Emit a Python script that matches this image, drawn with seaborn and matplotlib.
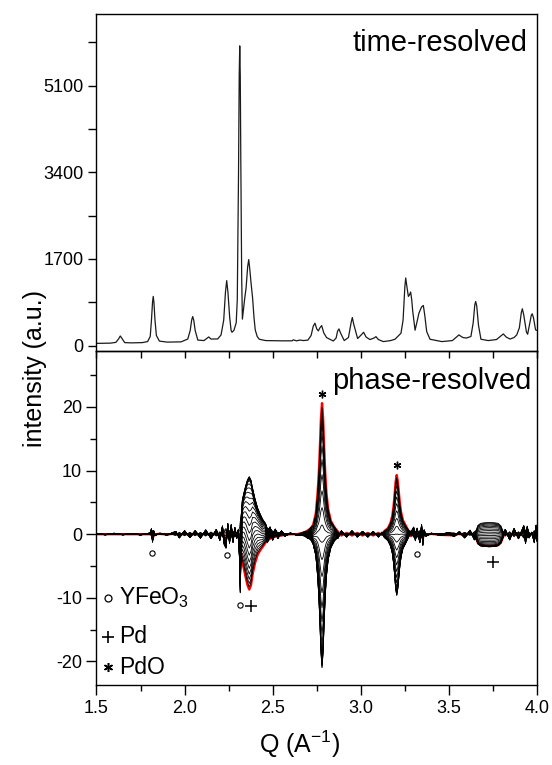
import numpy as np
import pandas as pd
import matplotlib
matplotlib.use("Agg")
import matplotlib.pyplot as plt
import seaborn as sns

# ---------------- data ----------------
# time-resolved pattern (Q in 1/A, intensity a.u.)
Q_top = [1.500, 1.580, 1.610, 1.625, 1.635, 1.645, 1.660, 1.700, 1.760, 1.790,
         1.805, 1.812, 1.818, 1.822, 1.826, 1.832, 1.840, 1.857, 1.900, 1.980,
         2.018, 2.032, 2.040, 2.046, 2.052, 2.060, 2.075, 2.110, 2.125, 2.137,
         2.150, 2.188, 2.207, 2.222, 2.232, 2.239, 2.246, 2.256, 2.264, 2.269,
         2.280, 2.293, 2.299, 2.306, 2.310, 2.313, 2.316, 2.319, 2.324, 2.328,
         2.334, 2.342, 2.349, 2.358, 2.364, 2.370, 2.378, 2.386, 2.394, 2.401,
         2.412, 2.424, 2.460, 2.550, 2.610, 2.617, 2.635, 2.655, 2.675, 2.700,
         2.718, 2.730, 2.740, 2.750, 2.759, 2.768, 2.778, 2.790, 2.806, 2.844,
         2.860, 2.868, 2.876, 2.885, 2.906, 2.930, 2.945, 2.952, 2.960, 2.982,
         3.005, 3.016, 3.030, 3.052, 3.075, 3.086, 3.100, 3.128, 3.170, 3.194,
         3.228, 3.240, 3.250, 3.255, 3.262, 3.270, 3.277, 3.283, 3.289, 3.295,
         3.308, 3.318, 3.330, 3.345, 3.355, 3.363, 3.374, 3.393, 3.460, 3.520,
         3.550, 3.557, 3.570, 3.581, 3.600, 3.625, 3.638, 3.647, 3.652, 3.658,
         3.668, 3.682, 3.723, 3.770, 3.795, 3.809, 3.825, 3.847, 3.870, 3.885,
         3.900, 3.911, 3.917, 3.925, 3.940, 3.947, 3.960, 3.968, 3.973, 3.980,
         3.992, 4.000]
I_top = [45, 50, 65, 130, 190, 140, 60, 55, 60, 80,
         180, 500, 850, 966, 850, 500, 200, 90, 70, 75,
         130, 300, 500, 571, 500, 300, 110, 100, 140, 171,
         130, 132, 211, 500, 1050, 1275, 1050, 550, 300, 263,
         300, 450, 900, 3330, 5300, 5878, 5300, 3658, 1360, 520,
         700, 950, 1130, 1550, 1688, 1500, 1200, 933, 550, 309,
         180, 126, 100, 95, 95, 115, 95, 110, 100, 110,
         200, 380, 441, 330, 290, 350, 394, 250, 158, 92,
         150, 280, 329, 250, 100, 160, 450, 552, 420, 140,
         220, 263, 170, 120, 150, 177, 120, 80, 100, 126,
         244, 500, 1150, 1327, 1150, 966, 1000, 1052, 900, 670,
         303, 450, 638, 760, 788, 600, 276, 126, 80, 100,
         190, 211, 180, 158, 150, 180, 450, 800, 867, 780,
         400, 126, 100, 120, 190, 230, 170, 130, 160, 211,
         350, 650, 723, 600, 270, 224, 450, 600, 625, 550,
         309, 300]

# phase-resolved: in-phase (A, red curve) and quadrature (B) components
Q_ph = [1.500, 1.550, 1.600, 1.650, 1.700, 1.750, 1.790, 1.805, 1.812, 1.818,
        1.824, 1.832, 1.860, 1.900, 1.930, 1.950, 1.970, 2.000, 2.030, 2.060,
        2.090, 2.120, 2.150, 2.180, 2.200, 2.215, 2.225, 2.235, 2.245, 2.255,
        2.265, 2.275, 2.285, 2.295, 2.305, 2.312, 2.316, 2.321, 2.328, 2.337,
        2.347, 2.357, 2.367, 2.377, 2.386, 2.400, 2.415, 2.430, 2.443, 2.460,
        2.470, 2.485, 2.500, 2.515, 2.530, 2.550, 2.570, 2.600, 2.640, 2.680,
        2.700, 2.715, 2.730, 2.745, 2.755, 2.762, 2.768, 2.774, 2.780, 2.786,
        2.792, 2.798, 2.805, 2.815, 2.830, 2.850, 2.870, 2.890, 2.920, 2.950,
        2.980, 3.010, 3.040, 3.070, 3.100, 3.120, 3.134, 3.154, 3.169, 3.179,
        3.186, 3.192, 3.198, 3.204, 3.210, 3.216, 3.222, 3.229, 3.239, 3.254,
        3.270, 3.285, 3.300, 3.310, 3.320, 3.335, 3.345, 3.352, 3.360, 3.370,
        3.400, 3.450, 3.500, 3.530, 3.560, 3.590, 3.620, 3.645, 3.655, 3.665,
        3.680, 3.700, 3.730, 3.760, 3.780, 3.795, 3.805, 3.820, 3.845, 3.870,
        3.895, 3.910, 3.925, 3.935, 3.945, 3.955, 3.970, 3.985, 3.995, 4.000]
A_ph = [0.0, 0.0, 0.0, 0.0, 0.0, 0.0, 0.0, 0.0, 0.3, -0.6,
        -0.3, 0.0, 0.05, -0.05, 0.05, 0.2, -0.3, 0.25, -0.3, 0.25,
        -0.3, 0.3, -0.35, 0.3, -0.4, 0.5, -0.6, -0.9, 0.6, -0.6,
        0.6, -0.5, 0.4, -0.3, -0.5, -1.0, -2.0, -3.0, -4.5, -5.5,
        -6.8, -8.0, -8.7, -8.0, -6.3, -4.5, -3.2, -2.5, -2.0, -1.3,
        -1.0, -0.7, -0.5, -0.4, -0.3, -0.2, -0.1, 0.0, 0.0, 0.3,
        0.6, 0.9, 1.5, 3.3, 6.5, 9.7, 13.7, 18.3, 20.6, 18.3,
        13.7, 9.7, 6.5, 3.9, 2.1, 1.1, 0.4, -0.2, 0.2, -0.2,
        0.2, -0.2, 0.2, -0.2, 0.2, -0.1, 0.5, 0.95, 1.8, 2.9,
        4.4, 6.2, 8.3, 9.3, 8.3, 6.5, 4.8, 3.4, 2.2, 1.4,
        0.6, -0.3, 0.5, -0.5, 0.5, -0.6, 0.6, -0.7, 0.3, -0.1,
        0.05, -0.1, -0.15, -0.2, 0.1, -0.3, 0.2, -0.4, -0.6, -1.4,
        -1.7, -1.8, -1.85, -1.8, -1.7, -1.3, -0.6, 0.3, -0.4, 0.4,
        -0.4, 0.1, 0.6, -0.7, 0.6, -0.3, 0.1, -0.6, 0.6, -0.5]
B_ph = [0.10, -0.10, 0.15, -0.10, 0.12, -0.12, 0.12, 0.20, 0.80, -1.10,
        0.50, -0.20, 0.15, -0.15, 0.20, 0.40, -0.50, 0.50, -0.45, 0.50,
        -0.55, 0.60, -0.60, 0.70, -0.90, 1.20, -1.50, -2.00, 1.60, -1.30,
        1.40, -1.20, 1.00, -0.60, 0.50, -4.0, -9.0, -1.0, 3.0, 3.5,
        3.5, 3.0, 2.5, 2.8, 3.5, 3.2, 2.5, 1.8, 1.2, 1.0,
        -0.9, 0.9, -0.8, 0.7, -0.6, 0.5, -0.3, 0.2, -0.2, 0.2,
        -0.3, 0.5, -0.6, -0.8, -1.3, -2.0, -2.8, -3.6, -4.0, -3.6,
        -2.8, -2.0, -1.3, -0.8, -0.4, 0.3, -0.5, 0.5, -0.4, 0.5,
        -0.4, 0.4, -0.4, 0.4, -0.4, 0.3, -0.1, -0.3, -0.5, -0.8,
        -1.2, -1.7, -2.2, -2.5, -2.2, -1.8, -1.3, -0.9, -0.6, -0.4,
        0.3, 0.4, 1.0, -0.9, 0.8, -1.2, 1.4, -1.6, 0.6, -0.3,
        0.15, -0.15, 0.2, -0.3, 0.4, -0.5, 0.6, -0.8, -0.3, -0.6,
        -0.7, -0.7, -0.7, -0.7, -0.6, -0.5, -0.3, 0.7, -0.8, 0.8,
        -0.6, 0.3, 1.2, -1.3, 1.1, -0.5, 0.3, -1.2, 1.3, -1.0]
phase_deg = [7.5 * k for k in range(1, 25)]   # black curves; red curve = 0 deg

# phase markers
mark_kind = ["o", "o", "o", "o", "+", "+", "*", "*"]
mark_Q = [1.817, 2.242, 2.314, 3.317, 2.377, 3.752, 2.778, 3.205]
mark_y = [-2.95, -3.2, -11.2, -3.05, -11.3, -4.4, 22.0, 10.9]
legend_labels = ["YFeO$_3$", "Pd", "PdO"]
legend_kind = ["o", "+", "*"]
legend_y = [-10.0, -16.1, -20.9]

top_yticks = [0, 1700, 3400, 5100]
bot_yticks = [-20, -10, 0, 10, 20]
xticks = [1.5, 2.0, 2.5, 3.0, 3.5, 4.0]

# ---------------- style ----------------
sns.set_style("ticks")
plt.rcParams["font.family"] = ["Liberation Sans", "DejaVu Sans"]
plt.rcParams["mathtext.default"] = "regular"
plt.rcParams["axes.linewidth"] = 1.0
for key in ["text.color", "axes.labelcolor", "xtick.color", "ytick.color",
            "axes.edgecolor"]:
    plt.rcParams[key] = "black"

fig = plt.figure(figsize=(5.52, 7.65), dpi=100)
ax2 = fig.add_axes([0.1748, 0.1046, 0.7980, 0.4366])
ax1 = fig.add_axes([0.1748, 0.5412, 0.7980, 0.4405])
ax1.patch.set_visible(False)

# top panel
sns.lineplot(x=Q_top, y=I_top, ax=ax1, color="#1a1a1a", lw=0.9, sort=False)
ax1.set_xlim(1.5, 4.0)
ax1.set_ylim(-104, 6503)
ax1.set_yticks(top_yticks)
ax1.set_yticklabels([str(t) for t in top_yticks])
ax1.set_yticks([850 * k for k in range(0, 8)], minor=True)
ax1.set_xticks(xticks)
ax1.set_xticks(np.arange(1.5, 4.01, 0.25), minor=True)
ax1.tick_params(axis="x", which="both", labelbottom=False, direction="out",
                length=5, width=1)
ax1.tick_params(axis="y", which="major", direction="out", length=6, width=1,
                labelsize=13)
ax1.tick_params(axis="y", which="minor", direction="out", length=6, width=1)
ax1.set_xlabel("")
ax1.set_ylabel("")
ax1.text(0.9796, 0.890, "time-resolved", transform=ax1.transAxes,
         ha="right", va="baseline", fontsize=21)

# bottom panel
Qa = np.array(Q_ph)
Aa = np.array(A_ph)
Ba = np.array(B_ph)
rows = []
for p in phase_deg:
    r = np.deg2rad(p)
    vals = Aa * np.cos(r) + Ba * np.sin(r)
    rows.append(pd.DataFrame({"Q": Qa, "v": vals, "phase": p}))
df = pd.concat(rows, ignore_index=True)
red = pd.DataFrame({"Q": Qa, "v": Aa})

sns.lineplot(data=red, x="Q", y="v", ax=ax2, color="#ff0000", lw=1.7, zorder=1)
sns.lineplot(data=df, x="Q", y="v", units="phase", estimator=None, ax=ax2,
             color="black", lw=0.6, zorder=2)

marker_style = {"o": dict(marker="o", ms=3.8, mfc="white", mec="black", mew=0.8),
                "+": dict(marker="+", ms=8, mec="black", mew=1.1),
                "*": dict(marker=(6, 2, 0), ms=5.5, mec="black", mew=1.0)}
for k, q, y in zip(mark_kind, mark_Q, mark_y):
    ax2.plot([q], [y], ls="none", zorder=5, **marker_style[k])

leg_sym_style = {"o": dict(marker="o", ms=5, mfc="white", mec="black", mew=0.9),
                 "+": dict(marker="+", ms=9, mec="black", mew=1.2),
                 "*": dict(marker=(6, 2, 0), ms=6.5, mec="black", mew=1.1)}
for lab, k, y in zip(legend_labels, legend_kind, legend_y):
    ax2.plot([1.567], [y], ls="none", zorder=5, **leg_sym_style[k])
    ax2.text(1.627, y, lab, ha="left", va="center", fontsize=16.5)

ax2.set_xlim(1.5, 4.0)
ax2.set_ylim(-23.7, 28.8)
ax2.set_yticks(bot_yticks)
ax2.set_yticklabels([str(t) for t in bot_yticks])
ax2.set_yticks(np.arange(-20, 26, 5), minor=True)
ax2.set_xticks(xticks)
ax2.set_xticklabels([f"{t:.1f}" for t in xticks])
ax2.set_xticks(np.arange(1.5, 4.01, 0.25), minor=True)
ax2.tick_params(which="major", direction="out", length=7, width=1, labelsize=13)
ax2.tick_params(which="minor", direction="out", length=4.5, width=1)
ax2.set_xlabel("")
ax2.set_ylabel("")
ax2.text(0.9864, 0.886, "phase-resolved", transform=ax2.transAxes,
         ha="right", va="baseline", fontsize=21)

fig.text(35 / 552, 1 - 368 / 765, "intensity (a.u.)", rotation=90,
         ha="center", va="center", fontsize=18)
fig.text(300 / 552, 1 - 744 / 765, "Q (A$^{-1}$)", ha="center", va="center",
         fontsize=18)

fig.savefig("out.png", dpi=100)
